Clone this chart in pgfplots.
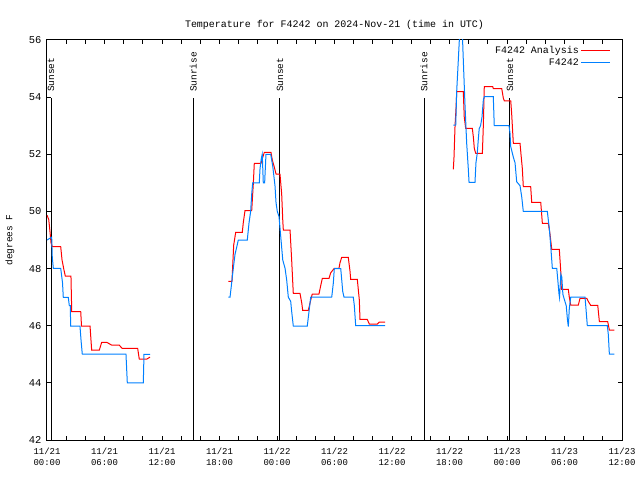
\documentclass[border=0pt]{standalone}
\usepackage{pgfplots}
\pgfplotsset{compat=1.18}
\usepackage{fontspec}
\setmainfont{Liberation Mono}
\usetikzlibrary{calc}
\definecolor{gred}{RGB}{255,0,0}
\definecolor{gblue}{RGB}{0,128,255}
\begin{document}
\begin{tikzpicture}
\begin{axis}[
  scale only axis, width=575bp, height=400bp,
  xmin=0, xmax=60, ymin=42, ymax=56,
  axis line style={line width=1bp},
  xtick={0,6,...,60},
  minor xtick={2,4,8,10,14,16,20,22,26,28,32,34,38,40,44,46,50,52,56,58},
  xticklabels={{11/21\\00:00},{11/21\\06:00},{11/21\\12:00},{11/21\\18:00},{11/22\\00:00},{11/22\\06:00},{11/22\\12:00},{11/22\\18:00},{11/23\\00:00},{11/23\\06:00},{11/23\\12:00}},
  xticklabel style={align=center, font=\fontsize{9}{11.5}\selectfont, yshift=-4bp},
  ytick={42,44,...,56},
  yticklabel style={font=\fontsize{10.5}{12}\selectfont, xshift=-2bp},
  /pgf/number format/assume math mode=true,
  major tick length=4.5bp, minor tick length=4.5bp,
  tick style={black, line width=1bp},
  unbounded coords=jump,
  legend plot pos=right,
  legend cell align=right,
  legend style={at={(rel axis cs:1,1)}, anchor=north east, xshift=-11bp, yshift=-4bp,
    draw=none, fill=none, font=\fontsize{10}{12}\selectfont, row sep=0bp,
    inner sep=0bp},
]
% sunrise / sunset lines
\addplot[black, line width=1bp, forget plot] coordinates {(0.42,42) (0.42,53.97)};
\addplot[black, line width=1bp, forget plot] coordinates {(15.27,42) (15.27,53.97)};
\addplot[black, line width=1bp, forget plot] coordinates {(24.31,42) (24.31,53.97)};
\addplot[black, line width=1bp, forget plot] coordinates {(39.34,42) (39.34,53.97)};
\addplot[black, line width=1bp, forget plot] coordinates {(48.31,42) (48.31,53.97)};
\node[rotate=90, anchor=west, font=\fontsize{9.5}{11}\selectfont, inner sep=0bp] at (axis cs:0.42,54.18) {Sunset};
\node[rotate=90, anchor=west, font=\fontsize{9.5}{11}\selectfont, inner sep=0bp] at (axis cs:15.27,54.18) {Sunrise};
\node[rotate=90, anchor=west, font=\fontsize{9.5}{11}\selectfont, inner sep=0bp] at (axis cs:24.31,54.18) {Sunset};
\node[rotate=90, anchor=west, font=\fontsize{9.5}{11}\selectfont, inner sep=0bp] at (axis cs:39.34,54.18) {Sunrise};
\node[rotate=90, anchor=west, font=\fontsize{9.5}{11}\selectfont, inner sep=0bp] at (axis cs:48.31,54.18) {Sunset};
% F4242 Analysis
\addplot[gred, line width=1bp,
  legend image code/.code={\draw[gred, line width=1bp] (0bp,0bp) -- (29bp,0bp);}] coordinates {
(0,49.87) (0.18,49.72) (0.31,49.3) (0.42,48.9) (0.55,48.77) (1.43,48.77) (1.57,48.3) (1.77,47.95)
(1.91,47.74) (2.50,47.74) (2.58,46.49) (3.52,46.49) (3.60,45.99) (4.49,45.99) (4.66,45.15) (5.46,45.15)
(5.71,45.42) (6.23,45.42) (6.75,45.32) (7.54,45.32) (7.83,45.21) (9.46,45.21) (9.63,44.83) (10.40,44.83)
(10.75,44.9)
(14,nan)
(18.92,47.55) (19.30,47.55) (19.48,48.82) (19.69,49.27) (20.38,49.27) (20.48,49.6) (20.66,50.03) (21.36,50.03)
(21.53,50.98) (21.63,51.68) (22.33,51.68) (22.47,51.85) (22.68,52.07) (23.37,52.07) (23.51,51.8) (23.72,51.55)
(23.90,51.31) (24.31,51.31) (24.49,50.6) (24.60,49.7) (24.66,49.35) (25.36,49.35) (25.53,48.3) (25.70,47.13)
(26.40,47.13) (26.58,46.8) (26.68,46.54) (27.27,46.54) (27.52,46.9) (27.68,47.11) (28.38,47.11) (28.56,47.4)
(28.73,47.66) (29.43,47.66) (29.60,47.85) (29.98,48.01) (30.47,48.01) (30.57,48.2) (30.75,48.39) (31.44,48.39)
(31.62,47.9) (31.69,47.62) (32.38,47.62) (32.59,46.9) (32.66,46.22) (33.42,46.22) (33.63,46.06) (34.47,46.06)
(34.68,46.13) (35.27,46.13)
(38,nan)
(42.40,51.47) (42.47,51.9) (42.58,53.02) (42.68,53.6) (42.75,54.19) (43.44,54.19) (43.54,53.3) (43.69,52.91)
(44.38,52.91) (44.49,52.6) (44.59,52.2) (44.74,52.03) (45.43,52.03) (45.53,53.0) (45.63,54.37) (46.51,54.37)
(46.57,54.3) (47.45,54.3) (47.62,53.96) (47.72,53.87) (48.39,53.87) (48.49,53.4) (48.66,52.38) (49.36,52.38)
(49.46,52.0) (49.60,51.5) (49.70,50.87) (50.47,50.87) (50.58,50.32) (51.52,50.32) (51.69,49.58) (52.31,49.58)
(52.49,49.2) (52.67,48.67) (53.46,48.67) (53.61,47.9) (53.67,47.27) (54.40,47.27) (54.50,47.0) (54.65,46.72)
(55.44,46.72) (55.62,46.96) (56.32,46.96) (56.48,46.85) (56.74,46.71) (57.47,46.71) (57.64,46.14) (58.51,46.14)
(58.68,45.85) (59.20,45.85)
};
\addlegendentry{F4242 Analysis}
% F4242
\addplot[gblue, line width=1bp,
  legend image code/.code={\draw[gblue, line width=1bp] (0bp,0bp) -- (29bp,0bp);}] coordinates {
(0,49.0) (0.49,49.1) (0.55,48.4) (0.66,48.01) (1.43,48.01) (1.62,47.5) (1.70,46.99) (2.22,46.99)
(2.33,46.7) (2.43,46.7) (2.47,45.99) (3.44,45.99) (3.55,45.5) (3.68,45.01) (8.24,45.01) (8.38,44.0)
(10.05,44.0) (10.12,45.0) (10.75,45.0)
(14,nan)
(18.92,47.0) (19.10,47.0) (19.27,47.5) (19.44,48.01) (19.62,48.5) (19.83,48.8) (19.96,49.0) (20.90,49.0)
(21.08,49.6) (21.25,50.0) (21.36,50.6) (21.46,51.0) (22.15,51.0) (22.23,51.5) (22.36,51.85) (22.46,52.0)
(22.57,51.0) (22.71,51.0) (22.85,52.0) (23.34,52.0) (23.55,51.6) (23.79,50.9) (23.90,50.3) (24.03,50.0)
(24.21,49.82) (24.39,49.12) (24.60,48.3) (24.84,48.01) (25.01,47.6) (25.18,47.0) (25.43,46.85) (25.53,46.5)
(25.70,45.99) (27.16,45.99) (27.34,46.5) (27.52,47.0) (29.71,47.0) (29.88,47.5) (29.98,48.0) (30.65,48.0)
(30.86,47.2) (30.99,47.0) (31.96,47.0) (32.07,46.7) (32.21,46.0) (35.27,46.0)
(38,nan)
(42.40,53.02) (42.65,53.02) (42.75,54.2) (42.92,55.3) (43.10,56.5) (43.31,56.5) (43.44,55.3) (43.62,53.7)
(43.79,52.4) (43.96,51.5) (44.04,51.02) (44.66,51.02) (44.76,51.7) (44.90,52.05) (45.00,52.5) (45.10,52.9)
(45.24,53.0) (45.39,53.3) (45.53,53.9) (45.63,54.02) (46.57,54.02) (46.67,53.0) (48.21,53.0) (48.31,52.75)
(48.39,52.27) (48.66,51.9) (48.84,51.7) (49.01,51.04) (49.36,50.9) (49.54,50.5) (49.70,50.0) (52.21,50.0)
(52.31,49.7) (52.42,49.4) (52.56,48.8) (52.73,48.01) (53.19,48.01) (53.30,47.6) (53.42,47.13) (53.48,46.99)
(53.62,47.8) (53.72,47.7) (53.83,47.1) (54.00,46.9) (54.18,46.7) (54.31,46.2) (54.40,45.97) (54.50,46.6)
(54.65,47.0) (56.14,47.0) (56.24,46.6) (56.38,46.0) (58.47,46.0) (58.57,45.7) (58.68,45.01) (59.20,45.01)
};
\addlegendentry{F4242}
\end{axis}
\node[anchor=base, font=\fontsize{10}{12}\selectfont] at ($(current axis.north)+(0,12bp)$) {Temperature for F4242 on 2024-Nov-21 (time in UTC)};
\node[rotate=90, anchor=center, font=\fontsize{9.5}{11}\selectfont] at ($(current axis.west)+(-37bp,0)$) {degrees F};
\pgfresetboundingbox
\path ($(current axis.south west)+(-47bp,-40bp)$) rectangle ($(current axis.north east)+(18bp,40bp)$);
\end{tikzpicture}
\end{document}
